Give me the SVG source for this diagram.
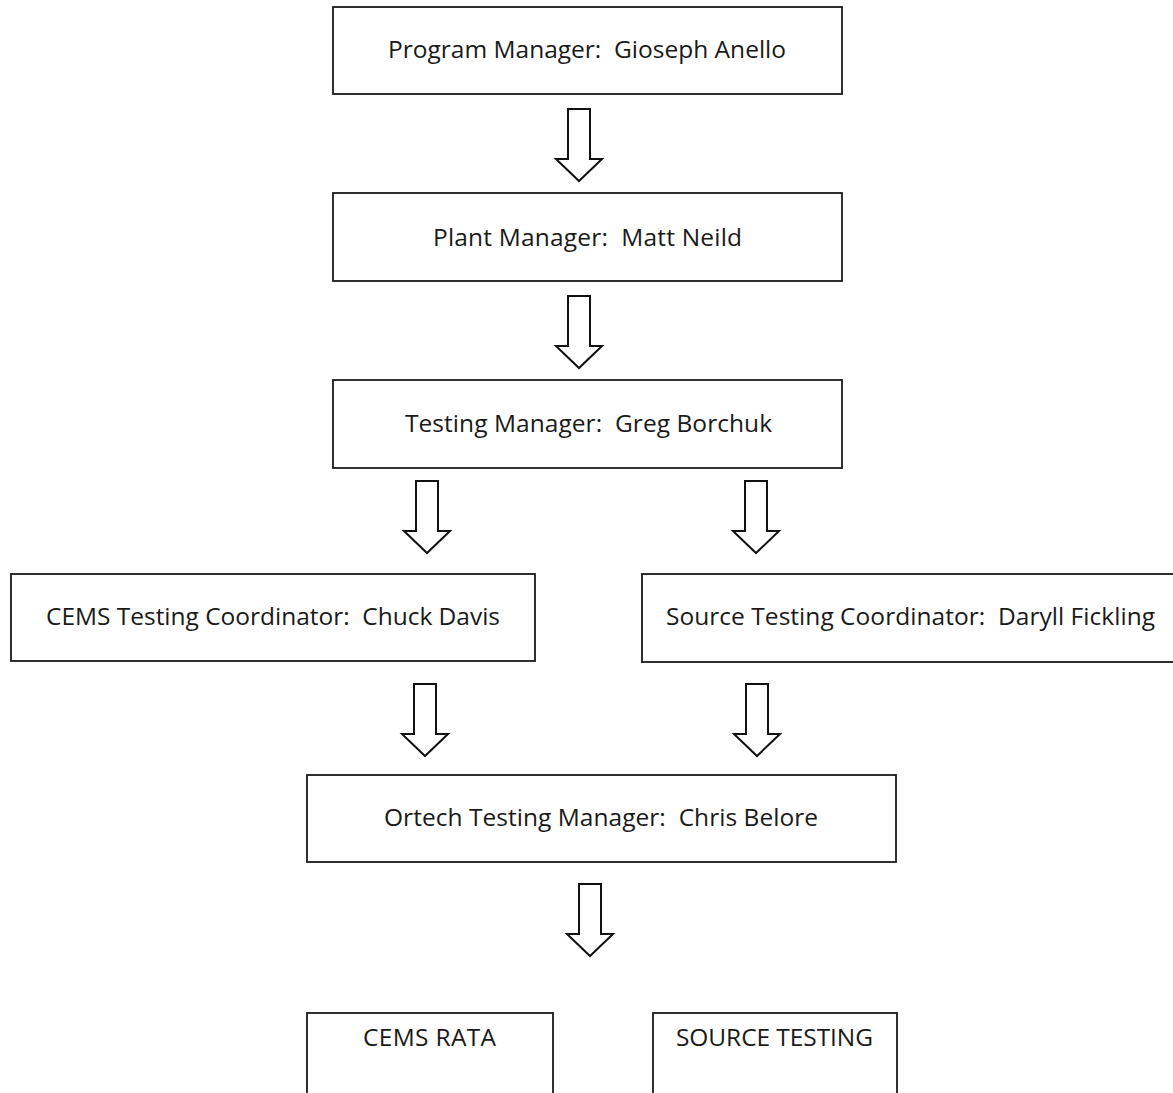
<svg xmlns="http://www.w3.org/2000/svg" width="1173" height="1093" viewBox="0 0 1173 1093">
<style>
.box{fill:#fff;stroke:#1a1a1a;stroke-width:1.8}
.lbl{font-family:"Open Sans","Liberation Sans",Arial,sans-serif;font-size:24.5px;fill:#1a1a1a;text-anchor:middle;white-space:pre}
.arr{fill:#fff;stroke:#111;stroke-width:2;stroke-linejoin:miter}
</style>
<defs>
<path id="down" class="arr" d="M-11,0 H11 V50 H23 L0,72 L-23,50 H-11 Z"/>
</defs>
<rect width="1173" height="1093" fill="#fff"/>
<g id="n-program"><rect class="box" x="333" y="7" width="509" height="87"/><text class="lbl" x="587" y="58" textLength="398" xml:space="preserve">Program Manager:  Gioseph Anello</text></g>
<g id="n-plant"><rect class="box" x="333" y="193" width="509" height="88"/><text class="lbl" x="587.5" y="246" textLength="309" xml:space="preserve">Plant Manager:  Matt Neild</text></g>
<g id="n-testing"><rect class="box" x="333" y="380" width="509" height="88"/><text class="lbl" x="588.5" y="432" textLength="367" xml:space="preserve">Testing Manager:  Greg Borchuk</text></g>
<g id="n-cems"><rect class="box" x="11" y="574" width="524" height="87"/><text class="lbl" x="273" y="625" textLength="454" xml:space="preserve">CEMS Testing Coordinator:  Chuck Davis</text></g>
<g id="n-source"><rect class="box" x="642" y="574" width="540" height="88"/><text class="lbl" x="910.5" y="625" textLength="489" xml:space="preserve">Source Testing Coordinator:  Daryll Fickling</text></g>
<g id="n-ortech"><rect class="box" x="307" y="775" width="589" height="87"/><text class="lbl" x="601" y="826" textLength="434" xml:space="preserve">Ortech Testing Manager:  Chris Belore</text></g>
<g id="n-rata"><rect class="box" x="307" y="1013" width="246" height="100"/><text class="lbl" x="429.5" y="1046" textLength="133">CEMS RATA</text></g>
<g id="n-srctest"><rect class="box" x="653" y="1013" width="244" height="100"/><text class="lbl" x="774.5" y="1046" textLength="197">SOURCE TESTING</text></g>
<g id="connectors">
<use href="#down" x="579" y="109"/>
<use href="#down" x="579" y="296"/>
<use href="#down" x="427" y="481"/>
<use href="#down" x="756" y="481"/>
<use href="#down" x="425" y="684"/>
<use href="#down" x="757" y="684"/>
<use href="#down" x="590" y="884"/>
</g>
</svg>
